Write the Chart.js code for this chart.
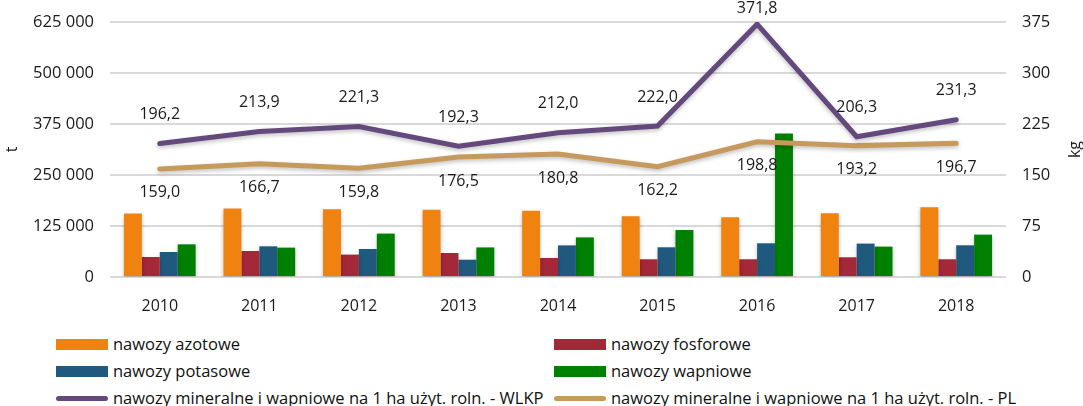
<!DOCTYPE html>
<html>
<head>
<meta charset="utf-8">
<script src="https://cdn.jsdelivr.net/npm/chart.js@4.4.1/dist/chart.umd.min.js"></script>
<style>
  body { margin:0; background:#fff; font-family: "Open Sans", sans-serif; }
  #wrap { position:relative; width:1083px; height:406px; }
  #box { position:absolute; left:0; top:0; width:1083px; height:312px; }
  .leg { position:absolute; font-size:16.5px; color:#111; line-height:20px; white-space:nowrap; }
  .sw { position:absolute; width:52px; height:11px; }
  .ln { position:absolute; width:52px; height:5px; border-radius:3px; }
</style>
</head>
<body>
<div id="wrap">
  <div id="box"><canvas id="chart"></canvas></div>
  <div id="legend"></div>
</div>
<script>
var years = ['2010','2011','2012','2013','2014','2015','2016','2017','2018'];
// tony
var azotowe   = [155400, 167600, 166000, 165000, 162500, 148800, 146300, 156100, 170800];
var fosforowe = [49000, 63700, 54900, 58800, 46600, 43400, 43400, 48300, 43400];
var potasowe  = [61300, 75200, 68600, 42400, 77500, 72800, 82600, 81900, 77700];
var wapniowe  = [80100, 72000, 106400, 72500, 97100, 115200, 351500, 74500, 103900];
// kg na 1 ha
var wlkp = [196.2, 213.9, 221.3, 192.3, 212.0, 222.0, 371.8, 206.3, 231.3];
var pl   = [159.0, 166.7, 159.8, 176.5, 180.8, 162.2, 198.8, 193.2, 196.7];
var leftTicks = [0, 125000, 250000, 375000, 500000, 625000];
var rightTicks = [0, 75, 150, 225, 300, 375];

var FONT = '"Open Sans", sans-serif';
var txt = '#1a1a1a';

function fmtT(v){ return String(v).replace(/\B(?=(\d{3})+(?!\d))/g, ' '); }
function fmtKg(v){ return v.toFixed(1).replace('.', ','); }

// etykiety nad/pod liniami + tytul prawej osi
var lineLabels = {
  id: 'lineLabels',
  afterDatasetsDraw: function(chart){
    var ctx = chart.ctx;
    ctx.save();
    ctx.font = '16px ' + FONT;
    ctx.fillStyle = txt;
    ctx.textAlign = 'center';
    ctx.textBaseline = 'middle';
    chart.data.datasets.forEach(function(ds, i){
      if (ds.type !== 'line') return;
      var meta = chart.getDatasetMeta(i);
      meta.data.forEach(function(pt, j){
        var y = ds.labelPos === 'above' ? Math.max(pt.y - 29, 8) : pt.y + 24;
        ctx.fillText(fmtKg(ds.data[j]), pt.x, y);
      });
    });
    var a = chart.chartArea;
    ctx.translate(1075, (a.top + a.bottom) / 2);
    ctx.rotate(-Math.PI / 2);
    ctx.fillText('kg', 0, 0);
    ctx.restore();
  }
};

var shadow = {
  id: 'shadow',
  beforeDatasetDraw: function(chart, args){
    var ctx = chart.ctx;
    ctx.save();
    ctx.shadowColor = 'rgba(0,0,0,0.25)';
    ctx.shadowBlur = 4;
    ctx.shadowOffsetY = 2;
  },
  afterDatasetDraw: function(chart){ chart.ctx.restore(); }
};

function bar(label, data, color){
  return { type:'bar', label:label, data:data, backgroundColor:color, yAxisID:'y', order:2,
           categoryPercentage:0.72, barPercentage:1.0 };
}
function line(label, data, color, pos){
  return { type:'line', label:label, data:data, borderColor:color, backgroundColor:color, yAxisID:'y1',
           borderWidth:5, pointRadius:0, tension:0, order:1, labelPos:pos, borderCapStyle:'round' };
}

var datasets = [
  bar('nawozy azotowe', azotowe, '#f0820f'),
  bar('nawozy fosforowe', fosforowe, '#a32838'),
  bar('nawozy potasowe', potasowe, '#1f5a7e'),
  bar('nawozy wapniowe', wapniowe, '#008000'),
  line('nawozy mineralne i wapniowe na 1 ha użyt. roln. - WLKP', wlkp, '#644a7c', 'above'),
  line('nawozy mineralne i wapniowe na 1 ha użyt. roln. - PL', pl, '#c59a5c', 'below')
];

function noPad(s){ s.paddingTop = 0; s.paddingBottom = 0; }

new Chart(document.getElementById('chart'), {
  type: 'bar',
  data: { labels: years, datasets: datasets },
  options: {
    responsive: true,
    maintainAspectRatio: false,
    animation: false,
    layout: { padding: { top: 22, left: 0, right: 0, bottom: 0 } },
    plugins: { legend: { display:false }, tooltip: { enabled:false } },
    scales: {
      x: {
        grid: { display:false },
        border: { display:false },
        ticks: { color: txt, font: { family: FONT, size: 16 }, padding: 12 },
        afterFit: function(s){ s.height = 312 - 277; }
      },
      y: {
        position: 'left',
        min: 0, max: 625000,
        afterBuildTicks: function(s){ s.ticks = leftTicks.map(function(v){ return {value:v}; }); },
        grid: { color:'#d9d9d9', lineWidth:2, drawTicks:false },
        border: { display:false },
        ticks: { color: txt, font: { family: FONT, size: 16.5 }, padding: 16, callback: function(v){ return fmtT(v); } },
        title: { display:true, text:'t', color: txt, font: { family: FONT, size: 16 }, padding: 3 },
        afterFit: function(s){ s.width = 110; noPad(s); }
      },
      y1: {
        position: 'right',
        min: 0, max: 375,
        afterBuildTicks: function(s){ s.ticks = rightTicks.map(function(v){ return {value:v}; }); },
        grid: { display:false, drawTicks:false },
        border: { display:false },
        ticks: { color: txt, font: { family: FONT, size: 16.5 }, padding: 16 },
        afterFit: function(s){ s.width = 1083 - 1006; noPad(s); }
      }
    }
  },
  plugins: [shadow, lineLabels]
});

// legenda w dwoch kolumnach
var legItems = [
  { t:'bar',  c:'#f0820f', x:56,  y:345, label: datasets[0].label },
  { t:'bar',  c:'#a32838', x:554, y:345, label: datasets[1].label },
  { t:'bar',  c:'#1f5a7e', x:56,  y:372, label: datasets[2].label },
  { t:'bar',  c:'#008000', x:554, y:372, label: datasets[3].label },
  { t:'line', c:'#644a7c', x:56,  y:399, label: datasets[4].label },
  { t:'line', c:'#c59a5c', x:554, y:399, label: datasets[5].label }
];
var lg = document.getElementById('legend');
legItems.forEach(function(it){
  var s = document.createElement('div');
  s.className = it.t === 'bar' ? 'sw' : 'ln';
  s.style.background = it.c;
  s.style.left = it.x + 'px';
  s.style.top = (it.y - (it.t === 'bar' ? 6 : 3)) + 'px';
  lg.appendChild(s);
  var l = document.createElement('div');
  l.className = 'leg';
  l.textContent = it.label;
  l.style.left = (it.x + 57) + 'px';
  l.style.top = (it.y - 11) + 'px';
  lg.appendChild(l);
});
</script>
</body>
</html>
